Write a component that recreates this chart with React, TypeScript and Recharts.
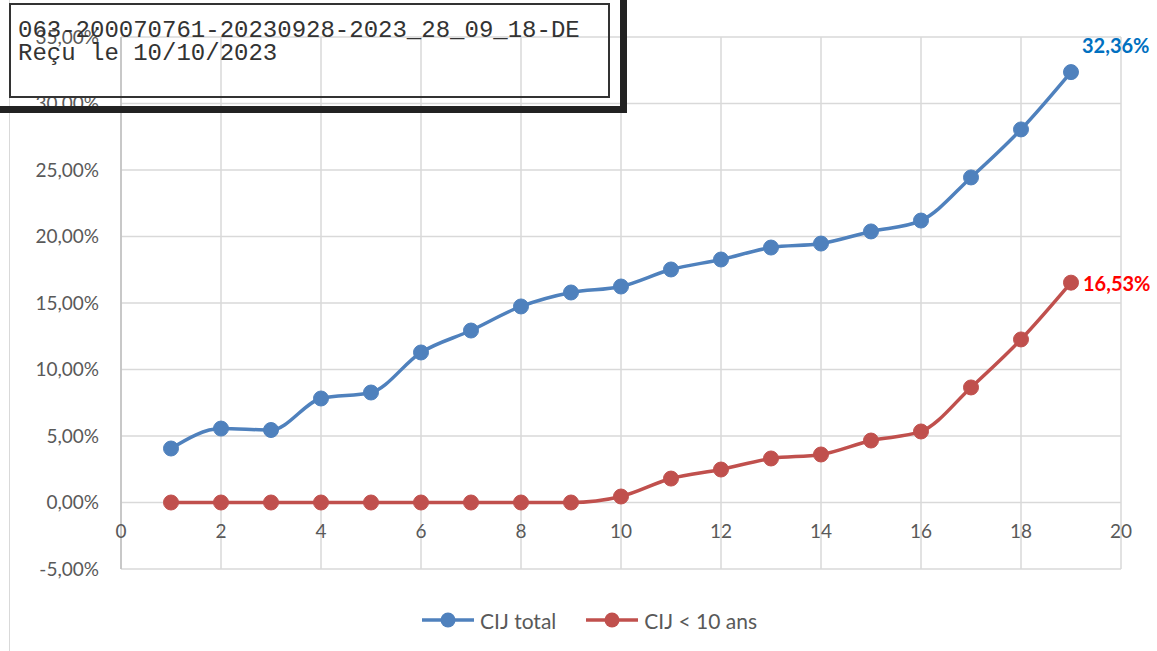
import React from 'react';
import { LineChart, Line, XAxis, YAxis, CartesianGrid, Legend } from 'recharts';

// x positions (1..19)
const steps = [1, 2, 3, 4, 5, 6, 7, 8, 9, 10, 11, 12, 13, 14, 15, 16, 17, 18, 19];
// CIJ total, in %
const cijTotal = [4.06, 5.56, 5.45, 7.82, 8.27, 11.28, 12.93, 14.74, 15.79, 16.24, 17.52, 18.27, 19.17, 19.47, 20.38, 21.2, 24.44, 28.05, 32.36];
// CIJ < 10 ans, in %
const cijUnder10 = [0, 0, 0, 0, 0, 0, 0, 0, 0, 0.45, 1.8, 2.48, 3.31, 3.61, 4.66, 5.34, 8.65, 12.26, 16.53];

const xTicks = [0, 2, 4, 6, 8, 10, 12, 14, 16, 18, 20];
const yTicks = [-5, 0, 5, 10, 15, 20, 25, 30, 35];

const seriesNames = ['CIJ total', 'CIJ < 10 ans'];
const stampLines = ['063-200070761-20230928-2023_28_09_18-DE', 'Reçu le 10/10/2023'];

const BLUE = '#4f81bd';
const RED = '#c0504d';
const FONT = 'Lato, "Open Sans", sans-serif';
const TICK_SIZE = 19;

const W = 1157;
const H = 651;
const TOP = 37;
const PLOT_BOTTOM = 569;
// y pixel of the 0 line (domain -5..35)
const ZERO_Y = TOP + ((PLOT_BOTTOM - TOP) * 35) / 40;

const data = steps.map((s, i) => ({ x: s, total: cijTotal[i], under10: cijUnder10[i] }));

const fmtPct = (v: number) => v.toFixed(2).replace('.', ',') + '%';

const XTick = (props: any) => {
  const { x, payload } = props;
  return (
    <text x={x} y={ZERO_Y + 35} textAnchor="middle" fill="#595959" fontSize={TICK_SIZE} fontFamily={FONT}>
      {payload.value}
    </text>
  );
};

const lastLabel = (color: string, dx: number, dy: number) => (props: any) => {
  const { x, y, index, value } = props;
  if (index !== steps.length - 1) return null;
  return (
    <text key="lbl" x={x + dx} y={y + dy} fill={color} fontSize={20} fontWeight="bold" fontFamily={FONT}>
      {fmtPct(value)}
    </text>
  );
};

const LegendContent = () => (
  <div style={{ height: 24, paddingLeft: 58, display: 'flex', justifyContent: 'center', alignItems: 'center', fontFamily: FONT, fontSize: 21, color: '#595959' }}>
    {[BLUE, RED].map((c, i) => (
      <div key={i} style={{ display: 'flex', alignItems: 'center', marginRight: i === 0 ? 30 : 0 }}>
        <svg width={52} height={16} style={{ marginRight: 6 }}>
          <line x1={0} y1={8} x2={52} y2={8} stroke={c} strokeWidth={3.5} />
          <circle cx={26} cy={8} r={7.5} fill={c} />
        </svg>
        <span>{seriesNames[i]}</span>
      </div>
    ))}
  </div>
);

export default function App() {
  return (
    <div style={{ position: 'fixed', left: 0, top: 0, width: W, height: H, background: '#fff', overflow: 'hidden' }}>
      <div style={{ position: 'absolute', left: 9, top: 0, width: 1, height: H, background: '#d9d9d9' }} />
      <LineChart width={W} height={H} data={data} margin={{ top: TOP, right: 36, left: 0, bottom: 19 }}>
        <CartesianGrid stroke="#d9d9d9" strokeWidth={1.5} />
        <XAxis
          dataKey="x"
          type="number"
          domain={[0, 20]}
          ticks={xTicks}
          axisLine={false}
          tickLine={false}
          height={39}
          tick={<XTick />}
        />
        <YAxis
          type="number"
          domain={[-5, 35]}
          ticks={yTicks}
          width={121}
          axisLine={{ stroke: '#bfbfbf', strokeWidth: 1.5 }}
          tickLine={false}
          tickMargin={16}
          tickFormatter={fmtPct}
          tick={{ fill: '#595959', fontSize: TICK_SIZE, fontFamily: FONT }}
        />
        <Legend verticalAlign="bottom" align="center" content={<LegendContent />} />
        <Line
          type="monotone"
          dataKey="total"
          name={seriesNames[0]}
          stroke={BLUE}
          strokeWidth={3.5}
          dot={{ r: 7.5, fill: BLUE, stroke: BLUE, strokeWidth: 1 }}
          isAnimationActive={false}
          label={lastLabel('#0070c0', 11, -19)}
        />
        <Line
          type="monotone"
          dataKey="under10"
          name={seriesNames[1]}
          stroke={RED}
          strokeWidth={3.5}
          dot={{ r: 7.5, fill: RED, stroke: RED, strokeWidth: 1 }}
          isAnimationActive={false}
          label={lastLabel('#ff0000', 12, 8)}
        />
      </LineChart>
      {/* stamp overlay */}
      <div style={{ position: 'absolute', left: -20, top: -20, width: 647, height: 133, border: '7px solid #222', boxSizing: 'border-box' }} />
      <div style={{ position: 'absolute', left: 9, top: 3, width: 601, height: 95, border: '2px solid #333', boxSizing: 'border-box' }} />
      <div style={{ position: 'absolute', left: 18, top: 19, fontFamily: '"Liberation Mono", monospace', fontSize: 24, lineHeight: '23px', color: '#333', whiteSpace: 'pre' }}>
        {stampLines.map((l, i) => (
          <div key={i}>{l}</div>
        ))}
      </div>
    </div>
  );
}
